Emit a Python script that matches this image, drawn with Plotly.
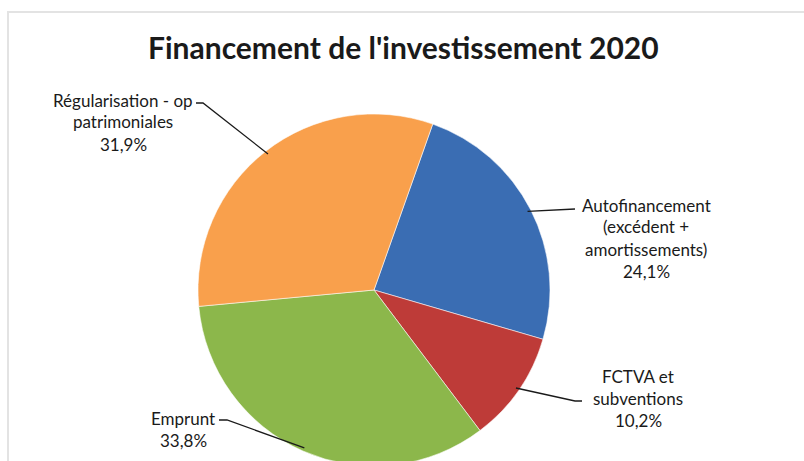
import math
import plotly.graph_objects as go

# ---- data ----
categories = ["Autofinancement (excédent + amortissements)", "FCTVA et subventions",
              "Emprunt", "Régularisation - op patrimoniales"]
values = [24.1, 10.2, 33.8, 31.9]
colors = ["#3A6DB3", "#BE3B38", "#8CB74B", "#F9A04C"]
label_lines = [
    ["Autofinancement", "(excédent +", "amortissements)", "24,1%"],
    ["FCTVA et", "subventions", "10,2%"],
    ["Emprunt", "33,8%"],
    ["Régularisation - op", "patrimoniales", "31,9%"],
]
title_text = "Financement de l'investissement 2020"

# ---- layout geometry (pixels) ----
W, H = 804, 472
cx, cy, r = 374, 290, 176
rotation = 19.5
# label block: center x, first-line y, line step
label_pos = [(646, 205, 22), (638, 376, 22), (183, 418, 22), (123, 100, 22)]
# leader end near label: (bend x, bend y, end x)
leader_end = [(575, 209, 575), (575, 401, 582), (227, 420, 219), (203, 103, 196)]

def px(x):
    return x / W

def py(y):
    return 1 - y / H

fig = go.Figure(go.Pie(
    labels=categories, values=values, sort=False, direction="clockwise",
    rotation=rotation, textinfo="none", showlegend=False,
    marker=dict(colors=colors, line=dict(color="rgba(255,255,255,0.55)", width=1)),
    domain=dict(x=[px(cx - r), px(cx + r)], y=[py(cy + r), py(cy - r)]),
))

annotations = [dict(text="<b>" + title_text + "</b>", x=px(403), y=py(47), xref="paper", yref="paper",
                    showarrow=False, xanchor="center", yanchor="middle",
                    font=dict(family="Lato", size=30, color="#1a1a1a"))]
shapes = [dict(type="rect", xref="paper", yref="paper", x0=px(8), y0=py(12), x1=px(W + 10), y1=py(H + 10),
               line=dict(color="#e3e3e3", width=2), fillcolor="rgba(0,0,0,0)", layer="below")]

total = sum(values)
cum = 0.0
for i, v in enumerate(values):
    mid = math.radians(rotation + 360 * (cum + v / 2) / total)
    cum += v
    k = 0.98
    ex, ey = cx + k * r * math.sin(mid), cy - k * r * math.cos(mid)
    bx, by, tx = leader_end[i]
    path = f"M {px(ex)},{py(ey)} L {px(bx)},{py(by)} L {px(tx)},{py(by)}"
    shapes.append(dict(type="path", xref="paper", yref="paper", path=path,
                       line=dict(color="#1a1a1a", width=1.3)))
    lx, ly, step = label_pos[i]
    for j, line in enumerate(label_lines[i]):
        annotations.append(dict(text=line, x=px(lx), y=py(ly + j * step), xref="paper", yref="paper",
                                showarrow=False, xanchor="center", yanchor="middle",
                                font=dict(family="Lato", size=17, color="#1a1a1a")))

fig.update_layout(width=W, height=H, margin=dict(l=0, r=0, t=0, b=0),
                  paper_bgcolor="white", plot_bgcolor="white",
                  annotations=annotations, shapes=shapes)

fig.write_html("out.html", config={"displayModeBar": False},
               post_script="document.body.style.margin='0';document.body.style.overflow='hidden';"
                           "document.documentElement.style.overflow='hidden';")
